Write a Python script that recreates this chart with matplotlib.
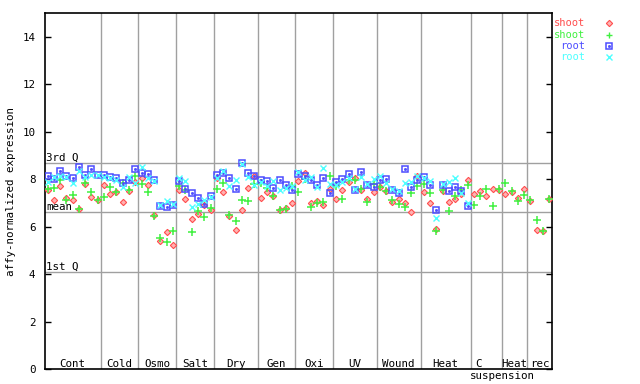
import numpy as np
import matplotlib
matplotlib.use("Agg")
import matplotlib.pyplot as plt
from matplotlib.transforms import blended_transform_factory

plt.rcParams['font.family'] = ['DejaVu Sans Mono']
plt.rcParams['font.size'] = 7.8

# grupos de amostras (nome, quantidade)
grupos = ["Cont", "Cold", "Osmo", "Salt", "Dry", "Gen", "Oxi", "UV", "Wound", "Heat", "C", "Heat", "rec"]
tamanhos = [9, 6, 6, 6, 7, 6, 6, 7, 7, 8, 5, 4, 4]

# shoot (rep 1 / rep 2)
shoot_1 = [7.56, 7.11, 7.73, 7.22, 7.10, 6.75, 7.79, 7.25, 7.10,
           7.77, 7.39, 7.45, 7.04, 7.49, 7.89,
           8.05, 7.77, 6.47, 5.40, 5.76, 5.24,
           7.56, 7.17, 6.34, 6.55, 6.93, 6.72,
           8.05, 7.46, 6.44, 5.87, 6.72, 7.63, 8.15,
           7.20, 7.46, 7.28, 6.71, 6.77, 7.00,
           7.93, 8.25, 6.99, 7.08, 6.91, 7.57,
           7.17, 7.54, 7.87, 8.04, 7.55, 7.17, 7.46,
           7.68, 7.48, 7.04, 7.16, 6.98, 6.62, 8.14,
           7.45, 7.00, 5.90, 7.50, 7.05, 7.17, 7.38, 7.96,
           7.38, 7.52, 7.27, 7.58, 7.53,
           7.38, 7.46, 7.22, 7.58,
           7.07, 5.87, 5.83, 7.17]
shoot_2 = [7.60, 7.63, 7.96, 7.14, 7.35, 6.74, 7.84, 7.47, 7.13,
           7.25, 7.67, 7.46, 7.84, 7.56, 8.15,
           7.81, 7.46, 6.46, 5.50, 5.36, 5.80,
           7.70, 7.55, 5.79, 6.65, 6.41, 6.79,
           7.58, 7.82, 6.47, 6.25, 7.13, 7.07, 7.80,
           7.83, 7.61, 7.30, 6.71, 6.76, 7.70,
           7.47, 8.00, 6.83, 6.99, 7.02, 8.14,
           7.73, 7.17, 7.97, 7.95, 7.58, 7.04, 7.80,
           7.67, 7.49, 7.10, 6.97, 6.81, 7.42, 7.70,
           7.81, 7.42, 5.81, 7.54, 6.64, 7.29, 7.55, 7.76,
           6.93, 7.31, 7.58, 6.86, 7.58,
           7.84, 7.49, 7.07, 7.34,
           7.14, 6.29, 5.80, 7.17]
# root (so ate o Heat)
root_1 = [8.15, 8.01, 8.35, 8.15, 8.05, 8.52, 8.18, 8.43, 8.18,
          8.17, 8.10, 8.05, 7.82, 7.96, 8.41,
          8.27, 8.22, 7.96, 6.86, 6.83, 6.91,
          7.94, 7.58, 7.42, 7.21, 6.97, 7.30,
          8.19, 8.26, 8.05, 7.59, 8.69, 8.27, 8.15,
          7.97, 7.92, 7.63, 7.97, 7.77, 7.55,
          8.23, 8.14, 7.97, 7.77, 8.05, 7.42,
          7.90, 8.00, 8.20, 7.55, 8.28, 7.77, 7.67,
          7.97, 8.01, 7.56, 7.42, 8.43, 7.67, 7.96,
          8.10, 7.76, 6.71, 7.75, 7.51, 7.67, 7.52, 6.88]
root_2 = [7.89, 8.10, 8.12, 8.10, 7.82, 8.35, 8.10, 8.18, 8.18,
          8.10, 8.05, 7.98, 7.67, 8.10, 7.84,
          8.50, 8.05, 7.93, 6.90, 7.07, 6.95,
          8.04, 7.91, 6.83, 6.97, 7.10, 7.25,
          8.05, 8.33, 7.70, 7.98, 8.65, 8.09, 7.77,
          7.86, 7.70, 7.91, 7.54, 7.63, 7.69,
          8.28, 7.97, 8.10, 7.68, 8.47, 7.81,
          7.76, 7.90, 8.06, 7.60, 8.10, 7.80, 8.01,
          8.13, 7.84, 7.60, 7.50, 7.84, 7.86, 8.15,
          8.05, 7.93, 6.37, 7.80, 7.89, 8.05, 7.43, 6.98]

# quartis / media
linhas = {"3rd Q": 8.68, "mean": 6.61, "1st Q": 4.08}

vermelho, verde, azul, ciano = "#ff4d4d", "#40f040", "#4d4dff", "#4dffff"
cinza = "#a0a0a0"

fig = plt.figure(figsize=(6.4, 3.84), dpi=100)
ax = fig.add_axes([45 / 640, 15 / 384, 507 / 640, 356 / 384])

x_shoot = np.arange(len(shoot_1))
x_root = np.arange(len(root_1))

# separadores dos grupos
limites = np.cumsum(tamanhos)[:-1] - 0.5
for b in limites:
    ax.axvline(b, color=cinza, lw=1, zorder=1)
for nome, v in linhas.items():
    ax.axhline(v, color=cinza, lw=1, zorder=1)
    ax.text(0.002, v, nome, transform=blended_transform_factory(ax.transAxes, ax.transData),
            va="bottom", ha="left")

ax.plot(x_shoot, shoot_1, "D", ls="none", ms=3.2, mfc="#ffb3b3", mec=vermelho, mew=0.8, zorder=3)
ax.plot(x_shoot, shoot_2, "+", ls="none", ms=5.2, color=verde, mew=1.1, zorder=3)
ax.plot(x_root, root_1, "s", ls="none", ms=4.0, mfc="none", mec=azul, mew=1.1, zorder=3)
ax.plot(x_root, root_1, "s", ls="none", ms=1.0, color=azul, zorder=3)
ax.plot(x_root, root_2, "x", ls="none", ms=4.0, color=ciano, mew=1.0, zorder=3)

ax.set_xlim(-0.4, 80.45)
ax.set_ylim(0, 15)
ax.set_yticks(range(0, 15, 2))
ax.set_xticks([])
ax.tick_params(axis="y", direction="in", length=4, width=1, right=True, pad=7)
for s in ax.spines.values():
    s.set_linewidth(1.2)

# nomes dos grupos
inicio = 0
for nome, n in zip(grupos, tamanhos):
    centro = inicio + (n - 1) / 2
    if nome == "C":
        centro -= 1.2
    ax.text(centro, 0.22, nome, ha="center", va="center")
    inicio += n
ax.text(72.5, -0.3, "suspension", ha="center", va="center", clip_on=False)

fig.text(11.5 / 640, 0.5, "affy-normalized expression", rotation=90, ha="center", va="center")

# legenda
leg = [("shoot", vermelho, "D"), ("shoot", verde, "+"), ("root", azul, "s"), ("root", ciano, "x")]
for k, (nome, cor, m) in enumerate(leg):
    yy = 1 - (23.3 + 11.2 * k) / 384
    fig.text(585 / 640, yy, nome, color=cor, ha="right", va="center", fontsize=7.5)
    if m == "D":
        ax.plot([609 / 640], [yy], m, ms=3.2, mfc="#ffb3b3", mec=cor, mew=0.8,
                transform=fig.transFigure, clip_on=False)
    elif m == "s":
        ax.plot([609 / 640], [yy], m, ms=4.0, mfc="none", mec=cor, mew=1.1,
                transform=fig.transFigure, clip_on=False)
        ax.plot([609 / 640], [yy], m, ms=1.0, color=cor, transform=fig.transFigure, clip_on=False)
    else:
        ax.plot([609 / 640], [yy], m, ms=4.5, color=cor, mew=1.0,
                transform=fig.transFigure, clip_on=False)

fig.savefig("out.png", dpi=100)
